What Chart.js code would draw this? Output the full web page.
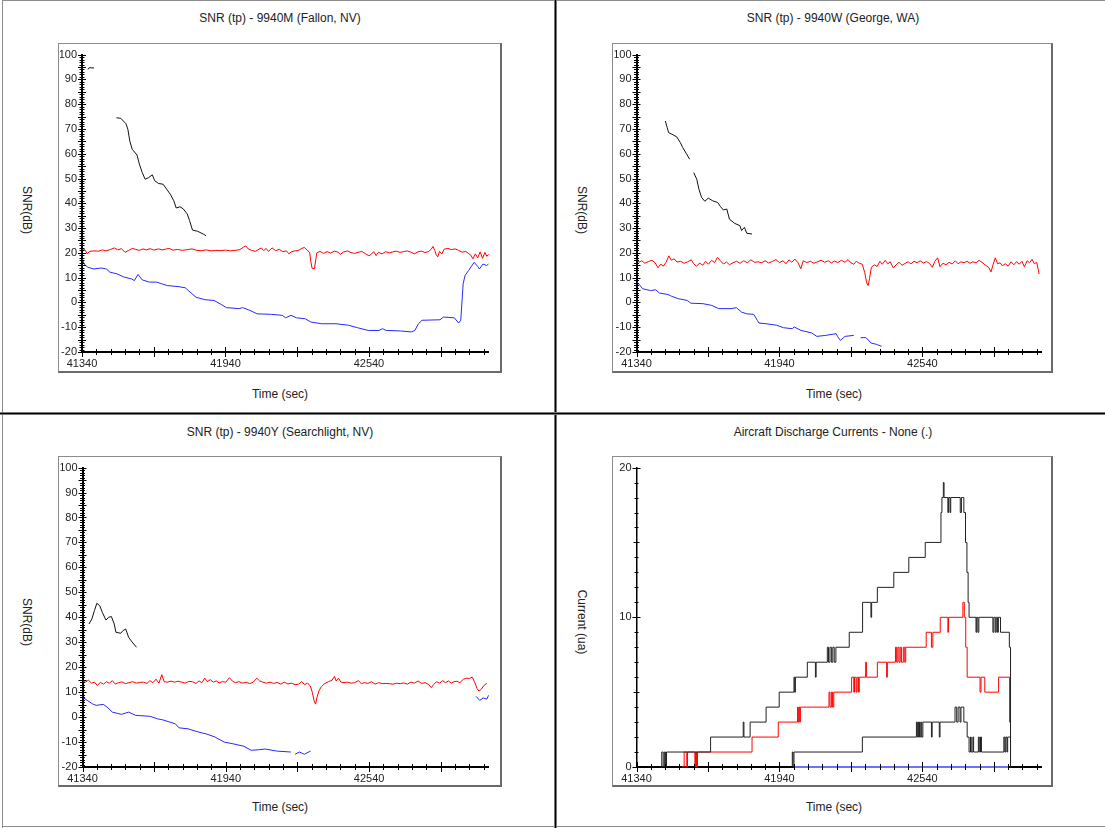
<!DOCTYPE html>
<html>
<head>
<meta charset="utf-8">
<script src="https://cdn.jsdelivr.net/npm/chart.js@4.4.1/dist/chart.umd.min.js"></script>
<style>
  html, body { margin: 0; padding: 0; background: #fff; }
  #page { position: relative; width: 1105px; height: 828px; overflow: hidden;
          font-family: "Liberation Sans", Arial, sans-serif; font-size: 12px; color: #222; }
  .rule { position: absolute; }
  .frame { position: absolute; box-sizing: border-box;
           border-top: 1px solid #8c8c8c; border-left: 1px solid #8c8c8c;
           border-right: 2px solid #6a6a6a; border-bottom: 2px solid #6a6a6a; }
  .txt { position: absolute; white-space: nowrap; transform: translate(-50%, -50%); }
  .ytxt { transform: translate(-50%, -50%) rotate(90deg); }
  canvas { position: absolute; }
</style>
</head>
<body>
<div id="page">
  <div class="rule" style="left:2px;top:0;width:1103px;height:1px;background:#8c8c8c"></div>
  <div class="rule" style="left:2px;top:0;width:1px;height:828px;background:#8c8c8c"></div>
  <div class="rule" style="left:2px;top:826px;width:1103px;height:1px;background:#8c8c8c"></div>
  <div class="rule" style="left:554px;top:0;width:3px;height:828px;background:#777"></div>
  <div class="rule" style="left:555px;top:0;width:1px;height:828px;background:#000"></div>
  <div class="rule" style="left:0;top:412px;width:1105px;height:3px;background:#777"></div>
  <div class="rule" style="left:0;top:413px;width:1105px;height:1px;background:#000"></div>

  <canvas id="c1" width="444" height="330" style="left:58px;top:43px"></canvas>
  <canvas id="c2" width="441" height="330" style="left:612px;top:43px"></canvas>
  <canvas id="c3" width="444" height="331" style="left:58px;top:456px"></canvas>
  <canvas id="c4" width="441" height="331" style="left:612px;top:456px"></canvas>

  <div class="frame" style="left:58px;top:43px;width:444px;height:330px"></div>
  <div class="frame" style="left:612px;top:43px;width:441px;height:330px"></div>
  <div class="frame" style="left:58px;top:456px;width:444px;height:331px"></div>
  <div class="frame" style="left:612px;top:456px;width:441px;height:331px"></div>

  <div class="txt" style="left:280px;top:18px">SNR (tp) - 9940M (Fallon, NV)</div>
  <div class="txt" style="left:833px;top:18px">SNR (tp) - 9940W (George, WA)</div>
  <div class="txt" style="left:280px;top:432px">SNR (tp) - 9940Y (Searchlight, NV)</div>
  <div class="txt" style="left:833px;top:432px">Aircraft Discharge Currents - None (.)</div>

  <div class="txt" style="left:280px;top:394px">Time (sec)</div>
  <div class="txt" style="left:834px;top:394px">Time (sec)</div>
  <div class="txt" style="left:280px;top:807px">Time (sec)</div>
  <div class="txt" style="left:834px;top:807px">Time (sec)</div>

  <div class="txt ytxt" style="left:27px;top:210px">SNR(dB)</div>
  <div class="txt ytxt" style="left:582px;top:210px">SNR(dB)</div>
  <div class="txt ytxt" style="left:27px;top:622px">SNR(dB)</div>
  <div class="txt ytxt" style="left:582px;top:622px">Current (ua)</div>
</div>
<script>
// time axis (sec)
const xTickLabels = [41340, 41940, 42540];
const snrTickLabels = [-20, -10, 0, 10, 20, 30, 40, 50, 60, 70, 80, 90, 100];
const currentTickLabels = [0, 10, 20];

// 9940M (Fallon, NV)  [time, SNR dB], null = gap
const fallonBlack = [[41365,94.0],[41370,94.7],[41390,94.6],null,
  [41484,74.5],[41502,74.3],[41524,72.1],[41532,69.8],[41540,65.1],[41550,61.8],[41570,59.5],
  [41580,55.8],[41592,52.4],[41604,49.7],[41619,50.4],[41634,51.5],[41644,49.1],[41660,48.0],
  [41679,47.7],[41694,45.7],[41709,43.7],[41724,41.0],[41734,38.1],[41750,38.6],[41764,37.7],
  [41780,35.7],[41790,33.0],[41802,29.2],[41824,28.7],[41847,27.6],[41859,26.9]];
const fallonRed = [[41340,21.0],[41352,21.3],[41362,19.6],[41372,20.6],[41390,20.8],[41410,20.7],
  [41425,21.2],[41440,20.8],[41460,21.4],[41475,22.0],[41490,21.2],[41505,21.7],[41520,20.2],
  [41535,21.0],[41550,21.8],[41565,21.4],[41580,21.0],[41595,21.6],[41610,21.2],[41625,21.7],
  [41640,21.1],[41660,21.6],[41675,21.2],[41690,21.5],[41705,21.8],[41720,21.1],[41740,21.4],
  [41760,21.0],[41780,21.3],[41800,21.6],[41820,21.0],[41840,20.9],[41860,21.2],[41880,20.8],
  [41900,21.0],[41920,20.9],[41940,21.1],[41960,20.8],[41980,21.0],[42000,21.3],[42015,22.3],
  [42025,22.8],[42035,21.6],[42050,21.0],[42065,20.6],[42080,21.5],[42090,22.0],[42100,20.9],
  [42110,21.8],[42120,20.6],[42135,22.0],[42150,20.9],[42165,21.4],[42180,20.5],[42195,20.8],
  [42205,19.6],[42215,20.4],[42230,20.8],[42245,21.0],[42260,21.8],[42270,22.2],[42282,21.0],
  [42292,20.2],[42297,16.5],[42302,13.8],[42312,13.6],[42318,17.5],[42322,20.0],[42335,20.6],
  [42350,19.8],[42365,20.5],[42380,19.9],[42395,20.7],[42410,20.3],[42420,19.4],[42435,20.4],
  [42450,20.8],[42465,20.1],[42480,19.8],[42495,20.2],[42510,20.6],[42525,19.7],[42540,18.8],
  [42550,19.5],[42560,20.5],[42570,18.9],[42580,20.2],[42595,19.6],[42610,20.5],[42625,20.0],
  [42640,20.4],[42655,20.7],[42670,20.2],[42685,20.5],[42700,20.8],[42715,20.3],[42730,19.6],
  [42745,20.4],[42760,20.7],[42775,20.1],[42790,20.6],[42800,21.4],[42808,22.6],[42815,21.0],
  [42822,19.2],[42828,18.4],[42835,20.6],[42845,19.6],[42855,21.5],[42870,21.8],[42885,21.3],
  [42900,21.6],[42915,21.0],[42930,20.3],[42945,20.6],[42955,19.8],[42965,19.2],[42975,17.6],
  [42985,19.6],[42995,18.0],[43005,20.4],[43015,17.8],[43025,20.2],[43033,18.6],[43040,19.4]];
const fallonBlue = [[41340,17.6],[41349,15.5],[41364,14.2],[41390,13.5],[41420,13.9],[41442,13.5],
  [41457,12.2],[41487,11.5],[41517,10.2],[41547,9.5],[41559,8.8],[41574,11.3],[41592,9.1],
  [41622,8.2],[41652,8.2],[41674,7.5],[41697,6.8],[41742,6.4],[41772,5.9],[41787,4.6],[41817,2.1],
  [41854,1.1],[41892,0.8],[41922,-0.8],[41944,-2.1],[41997,-2.5],[42012,-2.1],[42042,-3.2],
  [42072,-4.6],[42132,-4.8],[42177,-5.2],[42192,-6.2],[42214,-5.2],[42237,-6.2],[42274,-6.6],
  [42297,-7.9],[42342,-8.6],[42402,-8.6],[42454,-9.2],[42492,-10.2],[42537,-11.3],[42582,-11.3],
  [42597,-10.6],[42612,-11.3],[42672,-11.5],[42717,-11.9],[42732,-11.3],[42747,-8.6],[42762,-7.2],
  [42837,-7.0],[42852,-5.9],[42897,-6.2],[42915,-8.3],[42924,-7.2],[42934,7.5],[42942,10.9],
  [42957,12.9],[42980,16.2],[42995,14.5],[43002,13.5],[43017,15.5],[43032,14.9],[43040,15.5]];

// 9940W (George, WA)
const georgeBlack = [[41461,73.2],[41469,70.5],[41475,68.5],[41494,67.6],[41509,66.8],[41524,64.5],
  [41534,62.5],[41549,60.1],[41563,57.8],null,[41580,52.4],[41593,49.7],[41602,45.7],[41613,42.4],
  [41627,40.8],[41641,42.1],[41660,41.0],[41681,40.3],[41693,38.6],[41705,37.3],[41719,37.7],
  [41730,33.6],[41752,31.9],[41774,31.0],[41781,29.0],[41793,30.3],[41803,27.9],[41825,27.6]];
const georgeRed = [[41340,17.6],[41350,16.2],[41362,16.8],[41375,15.8],[41390,16.5],[41405,17.0],
  [41418,16.0],[41430,14.0],[41442,15.5],[41452,14.6],[41464,16.2],[41476,18.8],[41486,17.0],
  [41498,17.6],[41510,16.3],[41525,16.6],[41540,15.8],[41555,16.4],[41570,17.2],[41580,15.6],
  [41592,14.6],[41605,15.9],[41618,15.0],[41630,16.6],[41642,15.4],[41655,17.0],[41668,16.1],
  [41680,18.2],[41692,16.8],[41705,15.5],[41718,16.3],[41730,15.2],[41745,16.0],[41760,16.6],
  [41775,15.8],[41790,16.8],[41805,16.0],[41820,17.2],[41835,16.2],[41850,16.4],[41865,16.0],
  [41880,16.8],[41895,15.9],[41910,16.5],[41925,17.3],[41940,16.1],[41955,16.8],[41968,15.6],
  [41980,17.2],[41992,16.2],[42005,17.5],[42018,16.0],[42030,13.6],[42040,16.8],[42055,16.1],
  [42070,16.6],[42085,15.8],[42100,16.4],[42115,17.0],[42130,16.2],[42145,16.8],[42158,15.9],
  [42170,16.7],[42185,16.1],[42200,17.0],[42215,16.2],[42228,17.3],[42240,16.0],[42252,15.4],
  [42262,16.6],[42275,15.8],[42288,15.4],[42298,12.0],[42306,8.0],[42312,6.8],[42318,9.5],
  [42326,14.2],[42338,15.2],[42350,14.5],[42362,16.6],[42372,15.4],[42384,17.0],[42395,15.6],
  [42405,16.4],[42418,13.9],[42430,15.2],[42442,16.2],[42455,15.0],[42468,15.8],[42480,16.4],
  [42492,15.6],[42505,16.6],[42518,16.0],[42530,16.8],[42545,15.9],[42558,16.5],[42570,15.7],
  [42582,14.2],[42592,16.5],[42604,18.0],[42614,14.4],[42626,15.8],[42640,15.2],[42652,16.2],
  [42665,15.5],[42678,16.8],[42690,15.6],[42702,16.4],[42715,16.0],[42728,16.6],[42740,15.8],
  [42752,16.4],[42765,16.0],[42778,17.0],[42790,16.2],[42805,15.0],[42818,14.2],[42828,12.3],
  [42836,15.0],[42846,18.0],[42856,15.6],[42866,16.0],[42876,14.8],[42888,15.6],[42900,14.6],
  [42912,16.4],[42924,15.2],[42936,16.5],[42946,15.4],[42958,16.6],[42968,14.4],[42980,16.8],
  [42990,16.0],[43000,17.4],[43010,15.6],[43020,16.2],[43030,11.5]];
const georgeBlue = [[41343,8.2],[41355,6.8],[41366,5.5],[41399,4.8],[41421,5.1],[41436,3.8],
  [41472,3.2],[41487,2.5],[41516,1.5],[41553,0.8],[41568,-0.3],[41619,-0.5],[41656,-1.2],
  [41685,-2.5],[41737,-2.5],[41759,-2.1],[41781,-3.9],[41803,-4.6],[41832,-4.8],[41847,-7.2],
  [41854,-8.3],[41884,-8.6],[41928,-9.2],[41957,-10.2],[41994,-10.6],[42002,-9.9],[42031,-11.3],
  [42075,-12.3],[42097,-13.7],[42134,-13.3],[42178,-12.6],[42185,-13.9],[42196,-15.3],
  [42215,-13.7],[42252,-13.3],null,[42281,-14.2],[42303,-14.2],[42325,-16.4],[42347,-16.9],
  [42369,-17.7]];

// 9940Y (Searchlight, NV)
const searchBlack = [[41367,37.3],[41379,39.3],[41390,42.7],[41400,45.6],[41412,44.7],[41423,42.0],
  [41438,38.9],[41450,40.0],[41461,40.3],[41473,37.3],[41480,34.0],[41500,33.6],[41510,34.7],
  [41521,35.3],[41533,32.0],[41545,30.4],[41566,28.0]];
const searchRed = [[41340,14.5],[41352,14.0],[41365,14.8],[41378,13.6],[41390,14.0],[41402,12.7],
  [41415,13.9],[41428,13.2],[41440,14.2],[41452,13.6],[41465,14.6],[41478,13.2],[41490,13.8],
  [41505,14.1],[41520,13.4],[41535,13.8],[41550,14.2],[41565,13.6],[41580,13.9],[41595,14.0],
  [41610,13.5],[41622,14.6],[41635,13.8],[41648,15.2],[41660,13.6],[41672,17.0],[41682,14.2],
  [41695,14.0],[41710,14.4],[41725,14.0],[41740,14.4],[41755,14.0],[41770,13.6],[41785,14.3],
  [41800,14.2],[41815,13.5],[41828,14.5],[41840,13.8],[41852,15.6],[41862,14.2],[41875,15.0],
  [41888,14.0],[41900,14.5],[41912,13.7],[41925,14.2],[41940,14.0],[41955,15.8],[41968,14.4],
  [41980,13.8],[41995,14.2],[42010,13.6],[42025,14.0],[42040,13.4],[42055,14.0],[42070,15.6],
  [42082,14.5],[42095,14.0],[42110,13.6],[42125,14.0],[42140,13.5],[42155,13.9],[42170,13.2],
  [42185,14.0],[42200,13.3],[42215,13.6],[42230,13.0],[42245,13.2],[42258,14.2],[42270,13.0],
  [42282,13.6],[42294,12.5],[42302,10.0],[42310,6.5],[42316,5.2],[42322,8.0],[42330,10.5],
  [42340,12.2],[42355,13.5],[42370,14.2],[42385,14.8],[42395,16.3],[42402,14.5],[42412,15.6],
  [42422,14.0],[42435,13.8],[42450,14.0],[42465,13.6],[42480,13.8],[42495,14.6],[42508,13.4],
  [42520,13.8],[42535,13.5],[42550,14.2],[42565,13.2],[42580,13.8],[42595,13.4],[42610,13.5],
  [42625,13.4],[42640,13.2],[42655,13.6],[42670,13.4],[42685,13.7],[42700,13.2],[42715,14.0],
  [42730,13.6],[42745,14.5],[42760,13.5],[42775,13.8],[42790,13.0],[42800,11.8],[42810,13.0],
  [42822,14.2],[42835,13.6],[42848,14.6],[42860,13.8],[42872,14.5],[42884,13.6],[42896,14.2],
  [42908,14.4],[42920,13.8],[42935,15.2],[42948,15.6],[42960,15.5],[42972,16.0],[42982,14.0],
  [42992,11.5],[43000,10.4],[43010,11.2],[43022,12.8],[43033,13.5]];
const searchBlue = [[41340,8.0],[41360,6.7],[41382,5.3],[41397,4.7],[41427,5.1],[41443,4.0],
  [41465,2.0],[41503,1.1],[41533,2.0],[41563,0.7],[41624,0.3],[41654,-0.7],[41676,-1.1],
  [41706,-2.0],[41729,-2.7],[41744,-4.3],[41782,-4.7],[41812,-5.6],[41842,-6.4],[41857,-6.7],
  [41895,-8.0],[41933,-10.0],[41970,-10.7],[42016,-11.7],[42046,-13.3],[42076,-13.1],
  [42106,-12.8],[42152,-13.6],[42212,-14.0],null,[42230,-14.9],[42249,-14.0],[42269,-14.9],
  [42295,-13.6],null,[42988,8.3],[43003,6.7],[43018,7.7],[43033,7.2],[43040,8.7]];

// Aircraft discharge currents (ua), step values
const currentUpper = [[41443,0],[41446,1],[41452,0],[41457,1],[41462,0],[41466,1],[41651,2],
  [41788,3],[41791,2],[41817,3],[41884,4],[41939,5],[42001,6],[42004,5],[42007,6],[42057,7],
  [42091,6],[42094,7],[42141,8],[42146,7],[42152,8],[42158,7],[42164,8],[42170,7],[42177,8],
  [42233,9],[42289,11],[42324,10],[42327,11],[42351,12],[42420,13],[42483,14],[42552,15],
  [42618,17],[42622,18],[42628,19],[42631,18],[42647,17],[42650,18],[42656,17],[42659,18],
  [42699,17],[42704,18],[42714,17],[42721,15],[42727,13],[42732,11],[42736,10],[42765,9],
  [42768,10],[42773,9],[42777,10],[42836,9],[42840,10],[42846,9],[42850,10],[42855,9],
  [42859,10],[42868,9],[42905,8],[42910,0],[42913,0]];
const currentRed = [[41530,0],[41540,1],[41551,0],[41554,1],[41585,0],[41588,1],[41592,0],
  [41596,1],[41825,2],[41935,3],[42016,4],[42019,3],[42022,4],[42025,3],[42028,4],[42148,5],
  [42152,4],[42158,5],[42163,4],[42168,5],[42243,6],[42252,5],[42255,6],[42262,5],[42266,6],
  [42272,5],[42275,6],[42302,7],[42305,6],[42351,7],[42390,6],[42393,7],[42427,8],[42432,7],
  [42437,8],[42442,7],[42447,8],[42452,7],[42460,8],[42466,7],[42470,8],[42556,9],[42578,8],
  [42584,9],[42615,10],[42647,9],[42650,10],[42710,11],[42716,10],[42722,8],[42728,6],
  [42782,5],[42786,6],[42802,5],[42860,6],[42906,3],[42910,0],[42913,0]];
const currentLower = [[41990,0],[41994,1],[41997,0],[42001,1],[42288,2],[42515,3],[42519,2],
  [42524,3],[42528,2],[42533,3],[42537,2],[42542,3],[42578,2],[42581,3],[42611,2],[42614,3],
  [42677,4],[42684,3],[42690,4],[42698,3],[42702,4],[42714,3],[42728,2],[42736,1],[42742,2],
  [42745,1],[42752,2],[42755,1],[42775,2],[42779,1],[42784,2],[42788,1],[42882,2],[42886,1],
  [42890,2],[42895,1],[42898,2],[42910,0],[42913,0]];
const currentBlue = [[42001,0],[42904,0]];

const X_MIN = 41340, X_MAX = 43040;
const FONT = { family: '"Liberation Sans", Arial, sans-serif', size: 11 };

function toXY(pairs) {
  let last = X_MIN;
  return pairs.map(p => {
    if (!p) return { x: last + 1, y: null };
    last = p[0];
    return { x: p[0], y: p[1] };
  });
}

function series(pairs, color, order, stepped, width) {
  return {
    data: toXY(pairs), borderColor: color, borderWidth: width || 1, pointRadius: 0,
    fill: false, tension: 0, clip: false, spanGaps: false, order: order, stepped: !!stepped
  };
}

const tickMarks = {
  id: 'tickMarks',
  afterDatasetsDraw(chart) {
    const ctx = chart.ctx, xs = chart.scales.x, ys = chart.scales.y;
    const axisY = chart.chartArea.bottom, axisX = chart.chartArea.left;
    const dense = ys.max - ys.min > 50;
    ctx.save();
    ctx.strokeStyle = '#000';
    ctx.lineWidth = 1;
    ctx.beginPath();
    xs.ticks.forEach(t => {
      const px = Math.round(xs.getPixelForValue(t.value)) + 0.5;
      const d = (t.value - X_MIN) % 300 === 0 ? 5 : 3;
      ctx.moveTo(px, axisY - d);
      ctx.lineTo(px, axisY + d);
    });
    ys.ticks.forEach(t => {
      const py = Math.round(ys.getPixelForValue(t.value)) + 0.5;
      let d = dense ? 2.5 : 2;
      if (t.value % 10 === 0) d = 4;
      else if (t.value % 5 === 0) d = dense ? 4 : 3;
      ctx.moveTo(axisX - d, py);
      ctx.lineTo(axisX + d, py);
    });
    ctx.stroke();
    ctx.restore();
  }
};

function makeChart(id, datasets, yMin, yMax, yLabels, pad, yBorder) {
  const xTicks = [];
  for (let v = X_MIN; v <= X_MAX; v += 60) xTicks.push({ value: v });
  const yTicks = [];
  for (let v = yMin; v <= yMax; v += 1) yTicks.push({ value: v });
  return new Chart(document.getElementById(id), {
    type: 'line',
    data: { datasets: datasets },
    options: {
      responsive: false,
      animation: false,
      events: [],
      layout: { padding: pad },
      plugins: { legend: { display: false }, tooltip: { enabled: false } },
      scales: {
        x: {
          type: 'linear', min: X_MIN, max: X_MAX,
          afterFit: s => { s.height = 18; },
          afterBuildTicks: s => { s.ticks = xTicks.slice(); },
          ticks: {
            autoSkip: false, maxRotation: 0, padding: 5, color: '#222', font: FONT,
            callback: v => xTickLabels.includes(v) ? String(v) : ''
          },
          grid: { display: false, drawTicks: false },
          border: { display: true, color: '#000', width: 2 }
        },
        y: {
          type: 'linear', min: yMin, max: yMax,
          afterFit: s => { s.width = 22; },
          afterBuildTicks: s => { s.ticks = yTicks.slice(); },
          ticks: {
            autoSkip: false, padding: 5, color: '#222', font: FONT,
            callback: v => yLabels.includes(v) ? String(v) : ''
          },
          grid: { display: false, drawTicks: false },
          border: { display: true, color: '#000', width: yBorder }
        }
      }
    },
    plugins: [tickMarks]
  });
}

const RED = 'rgb(255,0,0)', BLUE = 'rgb(40,40,255)', BLACK = '#111';

makeChart('c1', [
  series(fallonBlack, BLACK, 1),
  series(fallonRed, RED, 2),
  series(fallonBlue, BLUE, 3)
], -20, 100, snrTickLabels, { left: 2, top: 10, right: 13.5, bottom: 3 }, 2);

makeChart('c2', [
  series(georgeBlack, BLACK, 1),
  series(georgeRed, RED, 2),
  series(georgeBlue, BLUE, 3)
], -20, 100, snrTickLabels, { left: 2.5, top: 10, right: 11.5, bottom: 3 }, 2);

makeChart('c3', [
  series(searchBlack, BLACK, 1),
  series(searchRed, RED, 2),
  series(searchBlue, BLUE, 3)
], -20, 100, snrTickLabels, { left: 2.5, top: 11, right: 13.5, bottom: 2 }, 2);

makeChart('c4', [
  series(currentUpper, '#222', 1, true),
  series(currentLower, '#222', 2, true),
  series(currentRed, RED, 3, true),
  series(currentBlue, 'rgb(110,110,255)', 0, false, 2)
], 0, 20, currentTickLabels, { left: 2.5, top: 9.5, right: 11.5, bottom: 2 }, 1.5);
</script>
</body>
</html>
